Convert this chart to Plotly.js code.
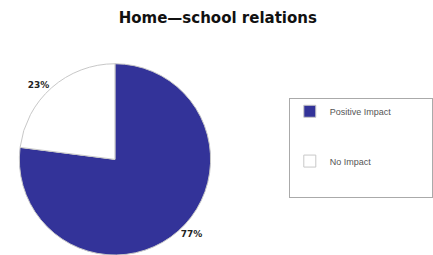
<!DOCTYPE html>
<html>
<head>
<meta charset="utf-8">
<script src="https://cdn.plot.ly/plotly-3.0.1.min.js"></script>
<style>html,body{margin:0;padding:0;background:#fff;}#chart{width:433px;height:255px;}</style>
</head>
<body>
<div id="chart"></div>
<script>
const categories = ["Positive Impact", "No Impact"];
const shares = [77, 23];
const sliceColors = ["#333399", "#ffffff"];
const chartTitle = "Home\u2014school relations";

// legend layout helpers (spacing only)
const extraLines = [3, 2];
const legendLabels = categories.map((c, i) =>
  c + "&nbsp;".repeat(i === 0 ? 14 : 0) + "<br> ".repeat(extraLines[i]));

const trace = {
  type: "pie",
  labels: legendLabels,
  values: shares,
  sort: false,
  direction: "clockwise",
  rotation: 0,
  marker: { colors: sliceColors, line: { color: "#c8c8c8", width: 1 } },
  textinfo: "percent",
  texttemplate: "%{value}%",
  textposition: "outside",
  outsidetextfont: { family: "DejaVu Sans", size: 9, color: "#222", weight: "bold" },
  domain: { x: [0, 0.531], y: [0, 0.75] },
  hoverinfo: "label+percent"
};

const layout = {
  width: 433, height: 255,
  margin: { l: 0, r: 0, t: 0, b: 0 },
  paper_bgcolor: "#fff",
  title: {
    text: "<b>" + chartTitle + "</b>",
    font: { family: "DejaVu Sans", size: 15, color: "#111" },
    x: 0.503, xanchor: "center", y: 0.929, yanchor: "middle"
  },
  showlegend: true,
  legend: {
    x: 0.667, xanchor: "left", y: 0.616, yanchor: "top",
    bordercolor: "#aaaaaa", borderwidth: 1, bgcolor: "#fff",
    font: { family: "Liberation Sans", size: 9, color: "#555" },
    valign: "top",
    itemwidth: 30,
    traceorder: "normal"
  }
};

Plotly.newPlot("chart", [trace], layout, { displayModeBar: false, staticPlot: true });
</script>
</body>
</html>
